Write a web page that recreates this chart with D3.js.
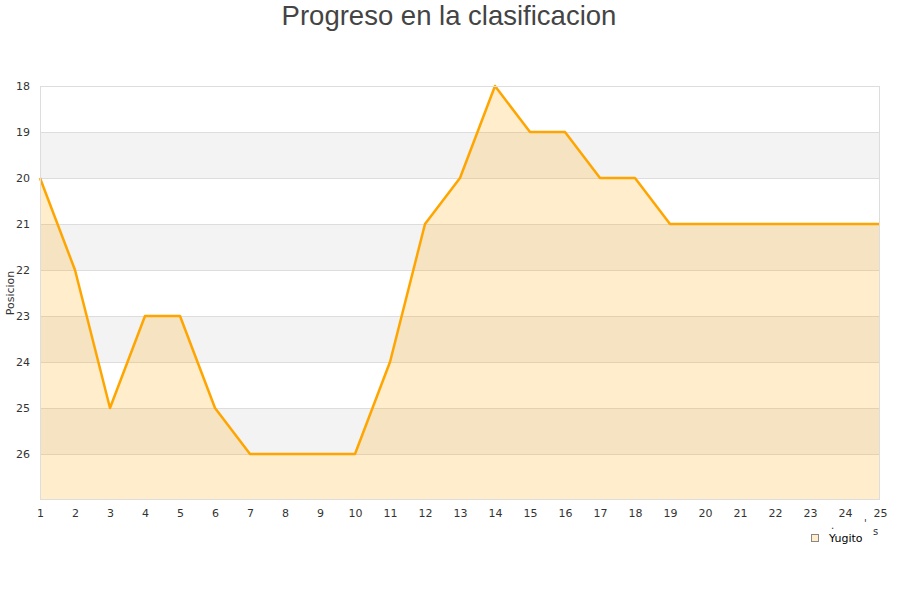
<!DOCTYPE html>
<html><head><meta charset="utf-8">
<script src="https://cdn.jsdelivr.net/npm/d3@7"></script>
<style>body{margin:0;background:#fff}</style>
</head><body>
<svg id="c" width="900" height="600"></svg>
<script>
const rounds = [1,2,3,4,5,6,7,8,9,10,11,12,13,14,15,16,17,18,19,20,21,22,23,24,25];
const positions = [20,22,25,23,23,25,26,26,26,26,24,21,20,18,19,19,20,20,21,21,21,21,21,21,21];
const yTicks = [18,19,20,21,22,23,24,25,26];
const seriesName = "Yugito";
const title = "Progreso en la clasificacion";
const yTitle = "Posicion";

const svg = d3.select("#c");
const L=40,R=880,T=86,B=500;
const x = d3.scaleLinear().domain([1,25]).range([L,R]);
const y = d3.scaleLinear().domain([18,27]).range([T,B]);

const bands=[19,21,23,25];
svg.selectAll("rect.band").data(bands).enter().append("rect")
  .attr("x",L).attr("width",R-L).attr("y",d=>y(d)).attr("height",d=>y(d+1)-y(d))
  .attr("fill","#f3f3f3");
svg.selectAll("line.grid").data(d3.range(18,27)).enter().append("line")
  .attr("x1",L).attr("x2",R).attr("y1",d=>y(d)+0.5).attr("y2",d=>y(d)+0.5)
  .attr("stroke","#dddddd").attr("stroke-width",1);

const data = rounds.map((r,i)=>({r,p:positions[i]}));
svg.append("path").datum(data)
  .attr("d",d3.area().x(d=>x(d.r)).y0(y(27)).y1(d=>y(d.p)))
  .attr("fill","rgb(255,165,0)").attr("fill-opacity",0.2);
svg.append("path").datum(data)
  .attr("d",d3.line().x(d=>x(d.r)).y(d=>y(d.p)))
  .attr("fill","none").attr("stroke","#ffa500").attr("stroke-width",2.5).attr("stroke-linejoin","round");

svg.append("rect").attr("x",L+0.5).attr("y",T+0.5).attr("width",R-L-1).attr("height",B-T-1)
  .attr("fill","none").attr("stroke","#dddddd");

const yAxis = d3.axisLeft(y).tickValues(yTicks).tickSize(0).tickPadding(10).tickFormat(d3.format("d"));
const ga = svg.append("g").attr("transform",`translate(${L},0)`).call(yAxis);
ga.select(".domain").remove();
ga.selectAll("text").attr("font-family","DejaVu Sans").attr("font-size",11).attr("fill","#333");

const xAxis = d3.axisBottom(x).tickValues(rounds).tickSize(0).tickPadding(9).tickFormat(d3.format("d"));
const gx = svg.append("g").attr("transform",`translate(0,${B})`).call(xAxis);
gx.select(".domain").remove();
gx.selectAll("text").attr("font-family","DejaVu Sans").attr("font-size",11).attr("fill","#333");

svg.append("text").attr("x",449).attr("y",25).attr("text-anchor","middle")
  .attr("font-family","Liberation Sans, Arial").attr("font-size",27.5).attr("fill","#444").text(title);

svg.append("text").attr("transform","translate(14,293) rotate(-90)").attr("text-anchor","middle")
  .attr("font-family","DejaVu Sans").attr("font-size",11).attr("fill","#333").text(yTitle);

svg.append("text").attr("x",873).attr("y",535).attr("font-family","DejaVu Sans").attr("font-size",10).attr("fill","#333").text("s");
svg.append("text").attr("x",831).attr("y",529).attr("font-family","DejaVu Sans").attr("font-size",10).attr("fill","#333").text(".");
svg.append("text").attr("x",864).attr("y",527).attr("font-family","DejaVu Sans").attr("font-size",10).attr("fill","#333").text("'");

svg.append("rect").attr("x",811.5).attr("y",534.5).attr("width",7).attr("height",7)
  .attr("fill","#ffedcc").attr("stroke","#888").attr("stroke-width",1);
svg.append("text").attr("x",829).attr("y",542).attr("font-family","DejaVu Sans").attr("font-size",11).attr("fill","#000").text(seriesName);
</script>
</body></html>
